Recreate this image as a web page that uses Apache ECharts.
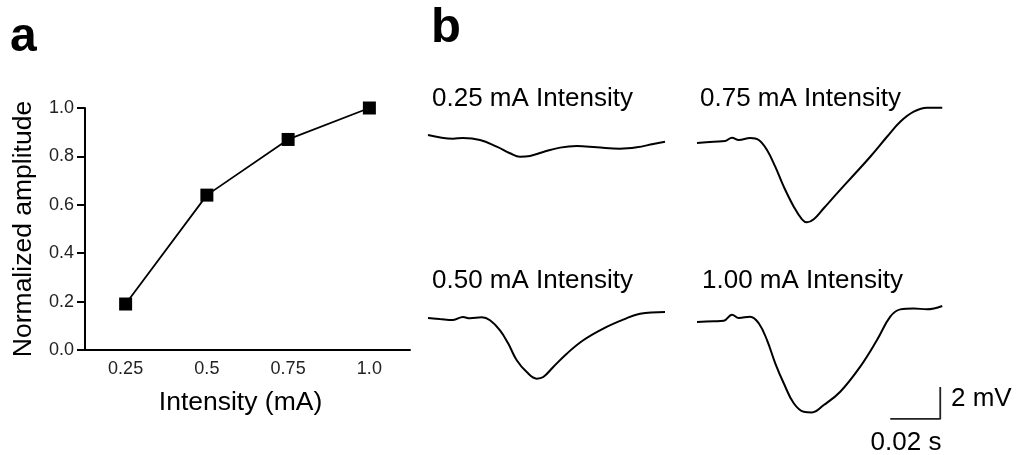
<!DOCTYPE html>
<html>
<head>
<meta charset="utf-8">
<script src="https://cdn.jsdelivr.net/npm/echarts@6/dist/echarts.min.js"></script>
<style>
  html, body { margin: 0; padding: 0; background: #fff; }
  #chart { width: 1016px; height: 455px; }
</style>
</head>
<body>
<div id="chart"></div>
<script>
// panel a
var intensityLabels = ['0.25', '0.5', '0.75', '1.0'];
var normalizedAmplitude = [0.19, 0.64, 0.87, 1.0];

// panel b traces: [time ms, mV relative to baseline]
var trace025 = [[0,0],[10,-0.23],[14,-0.19],[20.8,-0.31],[27.5,-0.73],[32.8,-1.14],[36.8,-1.36],[40.8,-1.31],
  [46.1,-1.06],[52.8,-0.79],[59.5,-0.69],[67.5,-0.77],[76.8,-0.86],[83.5,-0.77],[90.1,-0.56],[94.8,-0.42]];
var trace075 = [[0,0],[6.7,0.08],[11.3,0.12],[14,0.33],[16.7,0.19],[21.3,0.31],[24.7,0.19],[28,-0.44],[31.3,-1.48],
  [34.7,-2.73],[38.7,-3.98],[42,-4.77],[44,-4.96],[46.7,-4.77],[50.7,-4.08],[56,-3.15],[62.7,-2.0],[69.3,-0.86],
  [76,0.39],[81.3,1.33],[86.7,1.96],[92,2.21],[98.1,2.21]];
var trace050 = [[0,0],[4.7,-0.06],[10,-0.12],[14,0.06],[16.8,-0.02],[21.5,0.04],[24.8,-0.14],[28.8,-0.77],[32.1,-1.6],
  [35.5,-2.64],[39.5,-3.38],[43.5,-3.79],[46.1,-3.69],[50.1,-3.06],[55.5,-2.23],[62.1,-1.39],[70.1,-0.66],
  [78.1,-0.1],[84.8,0.27],[94.8,0.37]];
var trace100 = [[0,0],[6.7,0.04],[10.7,0.08],[14,0.46],[16.7,0.25],[21.3,0.33],[24.7,-0.08],[28,-1.13],[31.3,-2.58],
  [34.7,-3.83],[38.7,-5.08],[42.7,-5.61],[46,-5.65],[50.7,-5.19],[57.3,-4.36],[65.3,-2.79],[72,-1.13],[77.3,0.33],
  [81.3,0.79],[86.7,0.85],[92,0.79],[98.1,1.0]];
var traceTitles = ['0.25 mA Intensity', '0.75 mA Intensity', '0.50 mA Intensity', '1.00 mA Intensity'];

// scale bar (in trace units)
var scaleBarTime = 20;   // ms -> 0.02 s
var scaleBarVolt = 2;    // mV
var scaleBarOrigin = [77.3, -6.06];

var font = 'Liberation Sans, Arial, sans-serif';
var chart = echarts.init(document.getElementById('chart'));

// layout of the four trace boxes (left, top)
var traceBoxes = [[428, 87], [697, 95], [428, 270], [697, 274]];
var traces = [trace025, trace075, trace050, trace100];
var titlePos = [[432, 99], [700, 99], [432, 281], [702, 281]];

var grids = [{ left: 85, width: 325, top: 108, height: 242 }];
var xAxes = [{
  gridIndex: 0, type: 'category', data: intensityLabels, boundaryGap: true,
  name: 'Intensity (mA)', nameLocation: 'middle', nameGap: 39,
  nameTextStyle: { fontSize: 26.5, color: '#000', fontFamily: font, padding: [0, 14, 0, 0] },
  axisLine: { lineStyle: { color: '#000', width: 2 } },
  axisTick: { length: 8, lineStyle: { color: '#000', width: 2 } },
  axisLabel: { fontSize: 18, color: '#222', fontFamily: font, margin: 10 }
}];
var yAxes = [{
  gridIndex: 0, type: 'value', min: 0, max: 1, interval: 0.2,
  name: 'Normalized amplitude', nameLocation: 'middle', nameGap: 48,
  nameTextStyle: { fontSize: 26.5, color: '#000', fontFamily: font },
  axisLine: { show: true, lineStyle: { color: '#000', width: 2 } },
  axisTick: { show: true, length: 8, lineStyle: { color: '#000', width: 2 } },
  axisLabel: { fontSize: 18, color: '#222', fontFamily: font, margin: 11,
    formatter: function (v) { return v.toFixed(1); } },
  splitLine: { show: false }
}];
var series = [{
  type: 'line', xAxisIndex: 0, yAxisIndex: 0, data: normalizedAmplitude,
  symbol: 'rect', symbolSize: 13,
  itemStyle: { color: '#000' },
  lineStyle: { color: '#000', width: 1.8 }
}];

traces.forEach(function (tr, i) {
  grids.push({ left: traceBoxes[i][0], top: traceBoxes[i][1], width: 250, height: 160 });
  xAxes.push({ gridIndex: i + 1, type: 'value', min: 0, max: 100, show: false });
  yAxes.push({ gridIndex: i + 1, type: 'value', min: -7, max: 3, show: false });
  series.push({
    type: 'line', xAxisIndex: i + 1, yAxisIndex: i + 1, data: tr,
    smooth: 0.4, symbol: 'none', lineStyle: { color: '#000', width: 2 }
  });
});

// scale bar in the last trace box
series.push({
  type: 'line', xAxisIndex: 4, yAxisIndex: 4, symbol: 'none',
  lineStyle: { color: '#222', width: 1.8 },
  data: [
    [scaleBarOrigin[0], scaleBarOrigin[1]],
    [scaleBarOrigin[0] + scaleBarTime, scaleBarOrigin[1]],
    [scaleBarOrigin[0] + scaleBarTime, scaleBarOrigin[1] + scaleBarVolt]
  ]
});

var graphics = [
  { type: 'text', left: 10, top: 14, style: { text: 'a', fontSize: 48, fontWeight: 'bold', fill: '#000', fontFamily: font } },
  { type: 'text', left: 431, top: 4, style: { text: 'b', fontSize: 49, fontWeight: 'bold', fill: '#000', fontFamily: font } },
  { type: 'text', x: 951, y: 399, style: { text: scaleBarVolt + ' mV', fontSize: 26, fill: '#000', fontFamily: font, verticalAlign: 'middle' } },
  { type: 'text', x: 906, y: 443, style: { text: (scaleBarTime / 1000).toFixed(2) + ' s', fontSize: 26, fill: '#000', fontFamily: font, align: 'center', verticalAlign: 'middle' } }
];
traceTitles.forEach(function (t, i) {
  graphics.push({ type: 'text', x: titlePos[i][0], y: titlePos[i][1],
    style: { text: t, fontSize: 26, fill: '#000', fontFamily: font, verticalAlign: 'middle' } });
});

chart.setOption({
  animation: false,
  backgroundColor: '#fff',
  grid: grids,
  xAxis: xAxes,
  yAxis: yAxes,
  series: series,
  graphic: graphics
});
</script>
</body>
</html>
